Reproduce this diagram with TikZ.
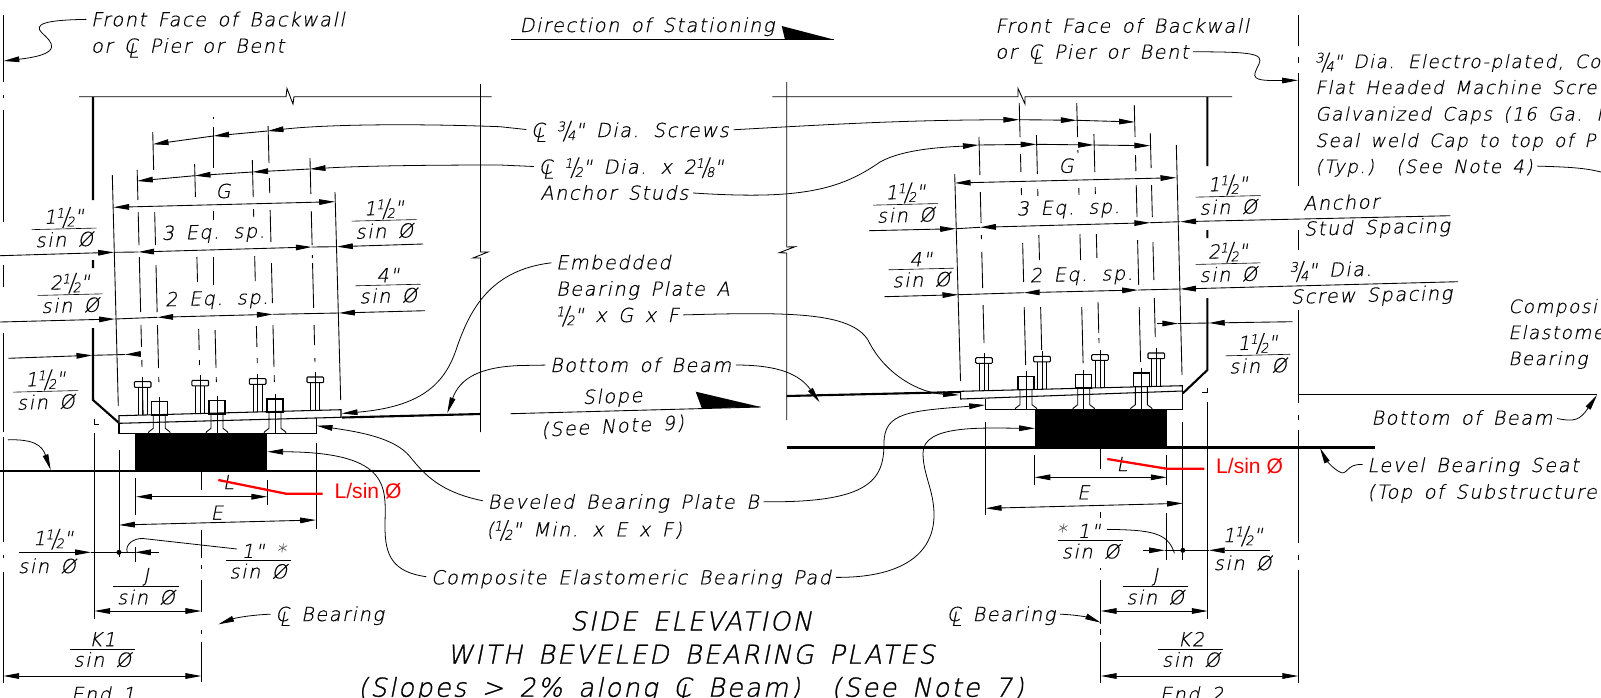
\documentclass[tikz,border=0pt]{standalone}
\usepackage{fontspec}
\usetikzlibrary{arrows.meta}
\newfontfamily\cadfont[FakeSlant=0.2,LetterSpace=8,WordSpace=1.5,FakeBold=0.4]{DejaVu Sans ExtraLight}
\newfontfamily\headfont[FakeSlant=0.2,LetterSpace=8,WordSpace=1.5,FakeBold=1.0]{DejaVu Sans ExtraLight}
\newfontfamily\redfont{Liberation Sans}
\def\clmark{\leavevmode\rlap{C}\kern.2em\lower.25em\hbox{L}\kern-.02em}
\def\nfr#1#2{\raisebox{.55ex}{\fontsize{7.5}{8}\selectfont #1}\kern-.12em\raisebox{-.2ex}{\scalebox{1}[1.3]{/}}\kern-.12em\raisebox{-.3ex}{\fontsize{7.5}{8}\selectfont #2}}
\def\barfrac#1#2{\vbox{\hbox to 37pt{\hss\vrule height 9.5pt depth 1pt width 0pt #1\hss}\kern.4pt\hrule height .35pt\kern.4pt\hbox to 37pt{\hss\vrule height 9.5pt depth 1pt width 0pt #2\hss}}}
\def\skewline(#1)(#2){\foreach \a/\b in {#2} {\draw[cutline] ({#1+.0245*\a},\a) -- ({#1+.0245*\b},\b);}}
\def\studbolt(#1,#2,#3){
	\draw[plateline,rounded corners=0.5pt] (#1-8.3,#2) rectangle (#1+8.3,#2+5.6);
	\draw[cutline] (#1-4.5,#2+5.6) -- (#1-4.5,#3) (#1+4.5,#2+5.6) -- (#1+4.5,#3) (#1,#2-5) -- (#1,#3);
}
\def\nutbolt(#1,#2,#3){
	\draw[plateline] (#1-8,#2) rectangle (#1+8,#2+13.3);
	\draw[cutline] (#1,#2-5) -- (#1,#3);
	\draw[cutline] (#1-6,#2+13.3) -- (#1-6,#3-5) -- (#1-10.5,#3-1.5) -- (#1-11,#3);
	\draw[cutline] (#1+6,#2+13.3) -- (#1+6,#3-5) -- (#1+10.5,#3-1.5) -- (#1+11,#3);
}
\tikzset{
	>={Stealth[inset=0pt,length=9pt,width=3.2pt]},
	cutline/.style={line width=0.5pt},
	plateline/.style={line width=0.6pt},
	webline/.style={line width=1.2pt},
	seatline/.style={line width=1.4pt},
	leader/.style={line width=0.45pt,shorten <=2.5pt},
	redline/.style={line width=1.3pt,color=red},
	cadfrac/.style={inner sep=0pt,font=\cadfont\fontsize{11}{13}\selectfont},
	cadtext/.style={cadfrac,text height=8pt,text depth=0pt},
	captext/.style={inner sep=0pt,text height=8pt,text depth=0pt,anchor=west,font=\cadfont\fontsize{10.5}{13}\selectfont},
	sloped/.style={cadtext,rotate=1.4},
	slopedfrac/.style={cadfrac,rotate=1.4},
	headtext/.style={inner sep=0pt,text height=11pt,text depth=0pt,font=\headfont\fontsize{14.8}{17}\selectfont},
	redtext/.style={inner sep=0pt,text=red,font=\redfont\fontsize{12}{14}\selectfont},
}
\begin{document}
\begin{tikzpicture}[x=0.02cm,y=-0.02cm]
		\useasboundingbox (0,0) rectangle (1601,697);
		%%%%% CENTER LINES %%%%%
		\foreach \a/\b in {15/82,95/98,110/222,265/287,333/432,437/542,555/558,572/683}
			{\draw[cutline] (3.5,\a) -- (3.5,\b);}
		\foreach \a/\b in {15/46,57/63,73/186,230/250,310/403,415/420,430/543,555/560,570/683}
			{\draw[cutline] (1298.2,\a) -- (1298.2,\b);}
		\foreach \a/\b in {472/490,530/558,565/569,580/612,630/634,642/682}
			{\draw[cutline] (201.3,\a) -- (201.3,\b);}
		\foreach \a/\b in {448/469,512/518,568/570,580/624,629/635,642/683}
			{\draw[cutline] (1100.8,\a) -- (1100.8,\b);}

		%%%%% BEAM OUTLINES %%%%%
		\draw[cutline] (79,96.7) -- (286,96.7) -- (287,88.5) -- (293,104) -- (294,96.7) -- (491.5,96.7);
		\draw[cutline] (772.3,96.7) -- (1018,96.7) -- (1018,88.5) -- (1025,104) -- (1025,96.7) -- (1232,96.7);
		\draw[cutline] (480.5,84) -- (480.5,252) -- (488,252) -- (473,258) -- (480.5,258) -- (480.5,432);
		\draw[cutline] (786.7,82) -- (786.7,247) -- (795,246.7) -- (779.3,252.7) -- (786.7,253) -- (786.7,420);
		\draw[webline] (93,97) -- (93,200) (93,260) -- (93,268) (93,328) -- (93,400) -- (118.5,422.5);
		\draw[webline] (1207.4,97) -- (1207.4,166) (1207.4,230) -- (1207.4,238) (1207.4,298) -- (1207.4,370) -- (1182.8,393.3);
		\draw[cutline] (94,419) -- (94,424) -- (99,424) (1207.7,388) -- (1207.7,392.7) -- (1202.4,392.7);
		\draw[webline] (342,417.5) -- (480.5,414);
		\draw[webline] (786.7,396) -- (960.7,392);
		\draw[cutline] (1298.2,394.3) -- (1597,394.3);
		\draw[seatline] (0,471) -- (480.3,471);
		\draw[seatline] (786.8,447.7) -- (1374.9,447.7);
		\fill[black] (135,433.3) rectangle (266.7,471);
		\fill[black] (1035.3,410) rectangle (1167,447.7);

		%%%%% PLATES %%%%%
		\draw[plateline] (119,415.7) -- (341,409.7) -- (341,417.3) -- (119,423.3) -- cycle;
		\draw[plateline] (119,423.3) -- (119,433.3) -- (316.7,433.3) -- (316.7,418.3);
		\draw[plateline] (960.7,391.3) -- (1182.3,385.7) -- (1182.3,391) -- (960.7,399) -- cycle;
		\draw[plateline] (985.7,398.5) -- (985.7,409.7) -- (1182.3,409.7) -- (1182.3,391);
		\foreach \x/\y/\p in {142.7/381.7/415,200.2/380.3/413.5,257.7/378.7/412,315.3/377/410.5}
			{\studbolt(\x,\y,\p)}
		\foreach \x/\y in {159.3/401.7,217/400.7,275/399}
			{\nutbolt(\x,\y,433.3)}
		\foreach \x/\y/\p in {984/357.7/390.7,1042/356.3/389.2,1100/354.7/387.8,1156.3/353/386.4}
			{\studbolt(\x,\y,\p)}
		\foreach \x/\y in {1026/376.3,1083.7/374.7,1141.3/373}
			{\nutbolt(\x,\y,409.7)}

		%%%%% EXTENSION LINES %%%%%
		\draw[cutline] (112.3,175) -- (118.3,406);
		\draw[cutline] (335,192) -- (340.7,400);
		\draw[cutline] (954.7,174) -- (960.5,381);
		\draw[cutline] (1176.3,145) -- (1182,375);
		\skewline(133)(170/200,212/245,257/312,325/347,360/367,385/415)
		\skewline(190.6)(164/197,257/282,329/350,360/365)
		\skewline(248.4)(160/197,209/217,256/281,326/347,358/363)
		\skewline(306.1)(158/194,211/245,255/258,263/308,325/345,358/362)
		\skewline(149.5)(132/170,212/245,265/312,325/368,377/382)
		\skewline(207)(330/368,377/382)
		\draw[cutline] (213.3,117) -- (213.3,118.5) (213.3,127) -- (213.3,168) (213.3,211) -- (213.3,220) (213.3,257) -- (213.3,285);
		\skewline(265)(126/163,178/193,210/242,263/303,325/367,375/382)
		\skewline(975.6)(137/175,192/223,235/239,252/288,305/343)
		\skewline(1033.1)(135/174,189/196,235/260,307/350)
		\skewline(1090.6)(134/172,187/194,234/258,302/333,338/343)
		\skewline(1147)(133/168,185/217,242/280,298/337)
		\skewline(1016.7)(103/137,154/172,188/195,243/282,307/365)
		\skewline(1074.2)(103/137,150/153,188/195,234/260,307/363)
		\skewline(1131.7)(105/137,155/171,185/217,240/285,307/362)
		\draw[cutline] (94,433) -- (94,619);
		\draw[cutline] (119,450) -- (119,557);
		\draw[cutline] (135,478) -- (135,515) (135,547) -- (135,562);
		\draw[cutline] (267.3,480) -- (267.3,505);
		\draw[cutline] (316.7,443) -- (316.7,529);
		\draw[cutline] (1207.7,401.7) -- (1207.7,619.3);
		\draw[cutline] (1182.8,421.7) -- (1182.8,560);
		\draw[cutline] (985.7,421.7) -- (985.7,515);
		\draw[cutline] (1034.5,455) -- (1034.5,485);
		\draw[cutline] (1166.7,455) -- (1166.7,485) (1166.7,513) -- (1166.7,560);

		%%%%% LABELS, LEFT %%%%%
		\node[cadtext,anchor=west] (faceLa) at (90.7,19.3) {Front Face of Backwall};
		\node[cadtext,anchor=west] (faceLb) at (90.7,45.7) {or \clmark\ Pier or Bent};
		\node[cadtext] (gapLa) at (223,191) {G};
		\node[sloped] (eqLa) at (213.3,231.7) {3 Eq. sp.};
		\node[sloped] (eqLb) at (216.7,298) {2 Eq. sp.};
		\node[slopedfrac] (frLa) at (64,227.5) {\barfrac{1\nfr{1}{2}"}{sin Ø}};
		\node[slopedfrac] (frLb) at (70,293.3) {\barfrac{2\nfr{1}{2}"}{sin Ø}};
		\node[slopedfrac] (frLc) at (384,219) {\barfrac{1\nfr{1}{2}"}{sin Ø}};
		\node[slopedfrac] (frLd) at (388,285) {\barfrac{4"}{sin Ø}};
		\node[slopedfrac] (frLe) at (45.5,390) {\barfrac{1\nfr{1}{2}"}{sin Ø}};
		\node[cadtext] (pinLa) at (53,538) {1\nfr{1}{2}"};
		\node[cadtext] (pinLb) at (47,566) {sin Ø};
		\node[cadtext] (spanLa) at (216.7,512.7) {E};
		\node[cadtext] (spanLb) at (228.3,482) {L};
		\node[cadfrac] (frLf) at (146,585.7) {\barfrac{J}{sin Ø}};
		\node[cadfrac] (frLg) at (258.3,560.7) {\barfrac{\kern6pt 1" \textcolor{black!60}{*}}{sin Ø}};
		\node[cadfrac] (frLh) at (102.3,649) {\barfrac{K1}{sin Ø}};
		\node[cadtext] (endL) at (103,694) {End 1};
		\node[cadtext,anchor=west] (brgL) at (275,614) {\clmark\ Bearing};
		\node[redtext,anchor=west] (redL) at (334.3,490.7) {L/sin Ø};

		%%%%% LABELS, MIDDLE %%%%%
		\node[cadtext,anchor=west] (dirSta) at (519.3,25) {Direction of Stationing};
		\node[cadtext,anchor=west] (scrMid) at (530.7,130) {\clmark\ \nfr{3}{4}" Dia. Screws};
		\node[cadtext,anchor=west] (stuMida) at (538.3,166.7) {\clmark\ \nfr{1}{2}" Dia. x 2\nfr{1}{8}"};
		\node[cadtext,anchor=west] (stuMidb) at (540,192.7) {Anchor Studs};
		\node[cadtext,anchor=west] (embMida) at (555.7,262.3) {Embedded};
		\node[cadtext,anchor=west] (embMidb) at (555.7,288.7) {Bearing Plate A};
		\node[cadtext,anchor=west] (embMidc) at (555.7,315) {\nfr{1}{2}" x G x F};
		\node[cadtext] (botMid) at (640.6,365) {Bottom of Beam};
		\node[cadtext,rotate=2] (slpMida) at (612.5,396) {Slope};
		\node[cadtext,rotate=3] (slpMidb) at (612.5,426) {(See Note 9)};
		\node[cadtext,anchor=west] (bevMida) at (487.3,501.7) {Beveled Bearing Plate B};
		\node[cadtext,anchor=west] (bevMidb) at (486,529.3) {(\nfr{1}{2}" Min. x E x F)};
		\node[cadtext,anchor=west] (padMid) at (430.7,577.3) {Composite Elastomeric Bearing Pad};
		\node[headtext] (headA) at (691,620.7) {SIDE ELEVATION};
		\node[headtext] (headB) at (691,654) {WITH BEVELED BEARING PLATES};
		\node[headtext] (headC) at (691,687) {(Slopes > 2\% along \clmark\ Beam)\ \ (See Note 7)};

		%%%%% LABELS, RIGHT %%%%%
		\node[cadtext,anchor=west] (faceRa) at (995,25.7) {Front Face of Backwall};
		\node[cadtext,anchor=west] (faceRb) at (995,51.7) {or \clmark\ Pier or Bent};
		\node[cadtext] (gapRa) at (1066,165.7) {G};
		\node[sloped] (eqRa) at (1068.2,207.3) {3 Eq. sp.};
		\node[sloped] (eqRb) at (1081.3,274) {2 Eq. sp.};
		\node[slopedfrac] (frRa) at (905.5,203) {\barfrac{1\nfr{1}{2}"}{sin Ø}};
		\node[slopedfrac] (frRb) at (921,269) {\barfrac{4"}{sin Ø}};
		\node[slopedfrac] (frRc) at (1228,195) {\barfrac{1\nfr{1}{2}"}{sin Ø}};
		\node[slopedfrac] (frRd) at (1228,262.3) {\barfrac{2\nfr{1}{2}"}{sin Ø}};
		\node[slopedfrac] (frRe) at (1257.7,353.7) {\barfrac{1\nfr{1}{2}"}{sin Ø}};
		\node[sloped,anchor=west] (ancRa) at (1302.8,203.3) {Anchor};
		\node[sloped,anchor=west] (ancRb) at (1303.6,228.7) {Stud Spacing};
		\node[sloped,anchor=west] (scrRa) at (1289.4,270.7) {\nfr{3}{4}" Dia.};
		\node[sloped,anchor=west] (scrRb) at (1290.5,296.7) {Screw Spacing};
		\node[captext] (capRa) at (1315,61) {\nfr{3}{4}" Dia. Electro-plated, Co};
		\node[captext] (capRb) at (1315,87) {Flat Headed Machine Scre};
		\node[captext] (capRc) at (1315,113.5) {Galvanized Caps (16 Ga. M};
		\node[captext] (capRd) at (1315,140) {Seal weld Cap to top of P};
		\node[captext] (capRe) at (1315,166) {(Typ.)\ \ (See Note 4)};
		\node[captext] (padRa) at (1508,306) {Composit};
		\node[captext] (padRb) at (1508,332) {Elastome};
		\node[captext] (padRc) at (1508,358) {Bearing};
		\node[cadtext,anchor=west] (botR) at (1371,417.7) {Bottom of Beam};
		\node[cadtext,anchor=west] (seatRa) at (1367,465) {Level Bearing Seat};
		\node[cadtext,anchor=west] (seatRb) at (1367,491.7) {(Top of Substructure};
		\node[cadtext] (spanRa) at (1083.2,492.3) {E};
		\node[cadtext] (spanRb) at (1121.9,464) {L};
		\node[cadfrac] (frRf) at (1090.6,540.7) {\barfrac{\textcolor{black!60}{*} 1"\kern14pt}{sin Ø}};
		\node[cadtext] (pinRa) at (1242.6,535) {1\nfr{1}{2}"};
		\node[cadtext] (pinRb) at (1242.6,563) {sin Ø};
		\node[cadfrac] (frRg) at (1155.2,585.7) {\barfrac{J}{sin Ø}};
		\node[cadfrac] (frRh) at (1190.9,649) {\barfrac{K2}{sin Ø}};
		\node[cadtext] (endR) at (1191.6,694) {End 2};
		\node[cadtext,anchor=west] (brgR) at (946.4,614) {\clmark\ Bearing};
		\node[redtext,anchor=west] (redR) at (1215.8,466) {L/sin Ø};

		%%%%% DIMENSIONS, LEFT %%%%%
		\draw[cutline,->] (267.7,131) -- (213.3,136);
		\draw[cutline,->] (213.3,136) -- (152.7,144.3);
		\draw[cutline,->] (252.3,172) -- (194.7,175.7);
		\draw[cutline,->] (194.7,175.7) -- (137,181);
		\draw[cutline,->] (309.7,169) -- (252.3,172);
		\draw[cutline,<->] (113.3,207.3) -- (335,201.7);
		\draw[cutline,->] (0,255.7) -- (114,252.3);
		\draw[cutline] (114,252.3) -- (138.3,252) (311.7,247) -- (337,246.7);
		\draw[cutline,<->] (138.3,252) -- (311.7,247);
		\draw[cutline,->] (423,244) -- (337,246.7);
		\draw[cutline,->] (0,322) -- (115,319);
		\draw[cutline] (115,319) -- (157.3,317.3) (272.7,314.3) -- (339,313);
		\draw[cutline,<->] (157.3,317.3) -- (272.7,314.3);
		\draw[cutline,->] (425,310.7) -- (339,313);
		\draw[cutline,->] (8.3,358.3) -- (92.3,355.3);
		\draw[cutline,->] (139.5,354) -- (125,354.5);
		\draw[cutline] (125,354.5) -- (92.3,355.3);
		\draw[cutline,<->] (136,496.7) -- (267.3,496.7);
		\draw[cutline,<->] (119,525) -- (316,520);
		\draw[cutline,->] (19,552.3) -- (91,552.3);
		\draw[cutline] (91,552.3) -- (135,552.3);
		\draw[cutline,->] (159,552.3) -- (135,552.3);
		\fill (119,552.3) circle (2.5);
		\draw[cutline,<->] (94.3,611) -- (201.3,611);
		\draw[cutline,<->] (3.3,676) -- (201.3,676);

		%%%%% DIMENSIONS, RIGHT %%%%%
		\draw[cutline,->] (1019.2,119.7) -- (1076.7,120.3);
		\draw[cutline,->] (1076.7,120.3) -- (1134.9,122);
		\draw[cutline,->] (978.7,145) -- (1036.4,144.3);
		\draw[cutline,->] (1036.4,144.3) -- (1093.9,145);
		\draw[cutline,->] (1093.9,145) -- (1150.2,145.7);
		\draw[cutline,<->] (954.7,183) -- (1176.3,177.7);
		\draw[cutline,->] (869,230.7) -- (956,228.7);
		\draw[cutline] (956,228.7) -- (980,227.3) (1150.2,222.7) -- (1180.2,221.7);
		\draw[cutline,<->] (980,227.3) -- (1150.2,222.7);
		\draw[cutline,->] (1450.4,215.7) -- (1180.2,221.7);
		\draw[cutline,->] (884.3,296.7) -- (958.3,294.7);
		\draw[cutline] (958.3,294.7) -- (1023.8,292.7) (1138,290) -- (1180,289);
		\draw[cutline,<->] (1023.8,292.7) -- (1138,290);
		\draw[cutline,->] (1458,281.7) -- (1180,289);
		\draw[cutline,->] (1157,323.5) -- (1178.2,323.5);
		\draw[cutline] (1178.2,323.5) -- (1208.9,323);
		\draw[cutline,->] (1292.5,321.7) -- (1208.9,323);
		\draw[cutline,<->] (1034.5,477.3) -- (1166.7,477.3);
		\draw[cutline,<->] (985.7,508.3) -- (1182.8,503.3);
		\draw[cutline,->] (1143,550.3) -- (1164.8,550.3);
		\draw[cutline] (1164.8,550.3) -- (1208.9,550.3);
		\draw[cutline,->] (1269.5,550.3) -- (1208.9,550.3);
		\fill (1182.8,550.3) circle (2.5);
		\draw[cutline,<->] (1100.8,611) -- (1207.7,611);
		\draw[cutline,<->] (1100.8,676) -- (1298.2,676);

		%%%%% LEADERS %%%%%
		\draw[leader,->] (faceLa.west) .. controls (45,20) and (33,24) .. (42,33) .. controls (52,42) and (65,54) .. (3.5,61);
		\draw[leader,->] (scrMid.west) -- (500,126.7) .. controls (400,123) and (320,125) .. (267.7,131);
		\draw[leader,->] (stuMida.west) -- (500,165) .. controls (420,165) and (360,166) .. (309.7,169);
		\draw[leader,->] (embMida.west) .. controls (490,270) and (470,310) .. (457,347) .. controls (445,385) and (420,407) .. (341.7,413.5);
		\draw[leader,->] (botMid.west) -- (520,365.5) .. controls (480,367) and (460,378) .. (447.3,413);
		\draw[leader,->] (botMid.east) .. controls (780,365) and (800,375) .. (819.6,402.3);
		\draw[leader,->] (scrMid.east) .. controls (820,125) and (900,120) .. (1019.2,119.7);
		\draw[leader,->] (stuMidb.east) .. controls (800,200) and (840,190) .. (880,162) .. controls (905,148) and (950,147) .. (978.7,145);
		\draw[leader,->] (embMidc.east) .. controls (790,312) and (850,312) .. (868,340) .. controls (885,375) and (920,393) .. (958.9,395);
		\draw[leader,->] (bevMida.west) .. controls (440,492) and (425,475) .. (410,456.7) .. controls (395,438) and (360,432) .. (316.7,425.7);
		\draw[leader,->] (bevMida.east) .. controls (870,503) and (884,480) .. (884,443) .. controls (884,412) and (910,411) .. (985,405);
		\draw[leader,->] (padMid.west) .. controls (392,572) and (385,555) .. (385,526.7) .. controls (385,490) and (395,452) .. (267.3,451.7);
		\draw[leader,->] (padMid.east) .. controls (900,578) and (934,555) .. (934,515) .. controls (934,490) and (923,475) .. (923,453) .. controls (923,425) and (980,428) .. (1035,428.3);
		\draw[leader,->] (brgL.west) .. controls (250,615) and (235,618) .. (218.3,624.3);
		\draw[leader,->] (brgR.east) .. controls (1080,615) and (1090,618) .. (1100.8,622.7);
		\draw[leader,->] (faceRb.east) .. controls (1250,52) and (1264,53) .. (1259,64) .. controls (1252,78) and (1250,81) .. (1298,80.3);
		\draw[leader] (capRe.east) .. controls (1570,167) and (1585,168) .. (1601,172);
		\draw[leader,->] (botR.east) .. controls (1575,422) and (1580,420) .. (1597,395);
		\draw[leader,->] (seatRa.west) .. controls (1345,463) and (1348,478) .. (1338,471) .. controls (1330,466) and (1325,458) .. (1320,448);
		\draw[leader,->] (3.5,440) .. controls (33,439) and (42,445) .. (50.7,470);
		\draw[leader] (128.5,556) .. controls (125,545) and (133,538) .. (143,538.5) -- (237,549);
		\draw[leader] (1102.7,529.3) .. controls (1150,530) and (1168,532) .. (1174.4,553.3);
		%%%%% WEDGES %%%%%
		\draw[cutline] (510.7,39.7) -- (834.3,39.7);
		\fill[black] (781.7,26) -- (834.3,39.7) -- (785,39.7) -- cycle;
		\draw[cutline] (510.7,413.7) -- (760.7,407);
		\fill[black] (695.7,391.7) -- (760.7,407) -- (701.8,408.3) -- cycle;
		%%%%% RED %%%%%
		\draw[redline] (218.3,480) -- (286,493.7) -- (322.7,493.7);
		\draw[redline] (1107.3,459) -- (1166.7,468.7) -- (1204.3,468.7);
	\end{tikzpicture}
\end{document}
